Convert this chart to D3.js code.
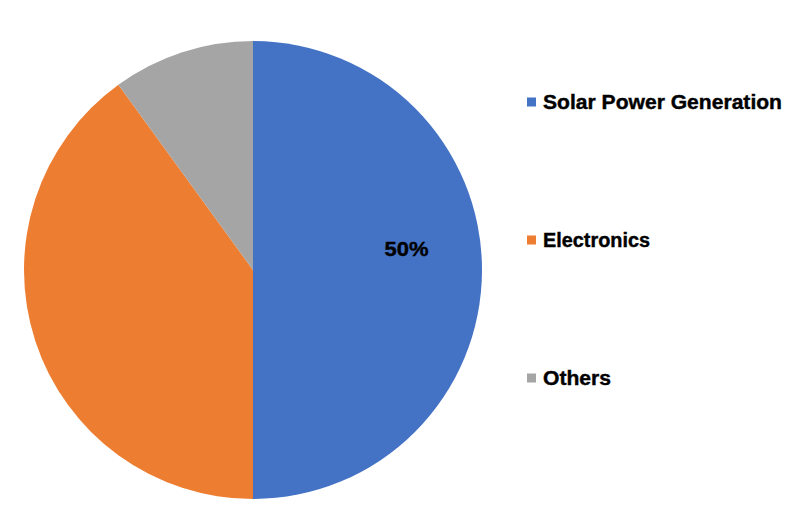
<!DOCTYPE html>
<html>
<head>
<meta charset="utf-8">
<script src="https://cdn.jsdelivr.net/npm/d3@7"></script>
<style>
  html, body { margin: 0; padding: 0; background: #ffffff; }
  svg { display: block; }
  text { font-family: "Liberation Sans", Arial, sans-serif; font-weight: bold; fill: #000; stroke: #000; stroke-width: 0.4px; }
</style>
</head>
<body>
<svg id="chart" width="800" height="519"></svg>
<script>
const categories = ["Solar Power Generation", "Electronics", "Others"];
const values = [50, 40, 10];
const colors = ["#4472C4", "#ED7D31", "#A5A5A5"];
const shownLabels = ["50%", null, null];

const svg = d3.select("#chart");
const cx = 253, cy = 270, r = 229;

const pie = d3.pie().value(d => d).sort(null);
const arcs = pie(values);
const arc = d3.arc().innerRadius(0).outerRadius(r);
const labelArc = d3.arc().innerRadius(r * 0.67).outerRadius(r * 0.67);

const g = svg.append("g").attr("transform", `translate(${cx},${cy})`);
g.selectAll("path").data(arcs).enter().append("path")
  .attr("d", arc)
  .attr("fill", (d, i) => colors[i]);

g.selectAll("text.lbl").data(arcs).enter()
  .filter((d, i) => shownLabels[i])
  .append("text")
  .attr("class", "lbl")
  .attr("transform", d => {
    const c = labelArc.centroid(d);
    return `translate(${c[0]},${-22})`;
  })
  .attr("text-anchor", "middle")
  .attr("dominant-baseline", "central")
  .attr("font-size", 21)
  .attr("textLength", 44)
  .attr("lengthAdjust", "spacingAndGlyphs")
  .text((d, i) => shownLabels[d.index]);

const legendY = d3.scalePoint().domain(categories).range([102, 378]);
const legendW = [239, 107, 68];
const lg = svg.append("g");
const items = lg.selectAll("g").data(categories).enter().append("g")
  .attr("transform", d => `translate(527,${legendY(d)})`);
items.append("rect")
  .attr("x", 0).attr("y", -4.5).attr("width", 9).attr("height", 9)
  .attr("fill", (d, i) => colors[i]);
items.append("text")
  .attr("x", 16).attr("y", 0)
  .attr("dominant-baseline", "central")
  .attr("font-size", 20)
  .attr("textLength", (d, i) => legendW[i])
  .attr("lengthAdjust", "spacingAndGlyphs")
  .text(d => d);
</script>
</body>
</html>
